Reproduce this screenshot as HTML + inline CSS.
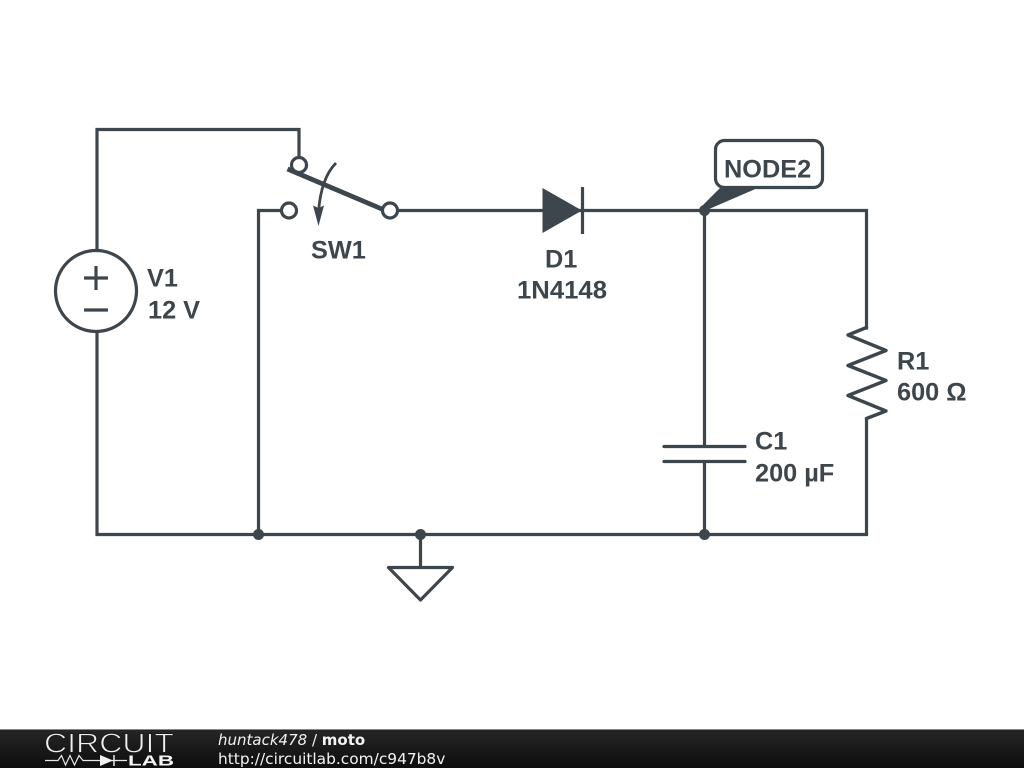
<!DOCTYPE html>
<html>
<head>
<meta charset="utf-8">
<style>
html,body{margin:0;padding:0;background:#fff;width:1024px;height:768px;overflow:hidden}
svg{display:block;position:absolute;left:0;top:0}
</style>
</head>
<body>
<svg width="1024" height="768" viewBox="0 0 1024 768" xmlns="http://www.w3.org/2000/svg">
<defs>
<linearGradient id="bar" x1="0" y1="0" x2="0" y2="1">
<stop offset="0" stop-color="#262626"/>
<stop offset="0.5" stop-color="#191919"/>
<stop offset="1" stop-color="#0e0e0e"/>
</linearGradient>
</defs>
<rect width="1024" height="768" fill="#fff"/>
<g fill="none" stroke="#3c464c" stroke-width="3.2" stroke-linecap="square">
<path d="M97 250V129.500H299V157"/>
<path d="M97 332V534.500H866.500V419"/>
<path d="M281 210.500H258.500V534.500"/>
<path d="M399 210.500H866.500V328"/>
<path d="M704.500 210.500V446"/>
<path d="M704.500 462V534.500"/>
<path d="M420.500 534.500V567"/>
<path d="M866.500 327.500L848 335L886 350.500L848 365.500L886 380.500L848 395.500L886 411L866.500 418.500" stroke-linejoin="round" stroke-linecap="round" stroke-width="3.4"/>
<path d="M664 446.500H745M664 461.500H745" stroke-linecap="round"/>
<path d="M388.500 567.500H452.500L420.500 600Z" stroke-linejoin="round"/>
<circle cx="96" cy="291" r="40.500"/>
<path d="M84 278H108M96 266V290M84 310H108" stroke-linecap="butt"/>
<circle cx="299" cy="165" r="7.500"/>
<circle cx="289" cy="210.500" r="7.500"/>
<circle cx="390" cy="210.500" r="7.500"/>
<path d="M287.500 169L383 209.500" stroke-width="4.800" stroke-linecap="butt"/>
<path d="M336 163Q321 178 318.500 212" stroke-width="2.800" stroke-linecap="butt"/>
<path d="M582.500 187V234" stroke-linecap="butt"/>
<rect x="715.500" y="140.500" width="107" height="47" rx="9" ry="9" stroke-width="3.200"/>
</g>
<path d="M318.500 226L313 205.500L318.500 208L324 205.500Z" fill="#3c464c"/>
<path d="M542.500 188V233L582 210.500Z" fill="#3c464c"/>
<path d="M721 187L760 187L704.500 211L700 208Z" fill="#3c464c"/>
<g fill="#3c464c">
<circle cx="704.500" cy="210.500" r="5.500"/>
<circle cx="704.500" cy="534.500" r="5.500"/>
<circle cx="258.500" cy="534.500" r="5.500"/>
<circle cx="420.500" cy="534.500" r="5.500"/>
</g>
<g font-family="'Liberation Sans',sans-serif" font-weight="700" font-size="25.300" fill="#3c464c">
<text x="147" y="286.700">V1</text>
<text x="148" y="318.700">12 V</text>
<text x="311" y="258.500">SW1</text>
<text x="545" y="267.700">D1</text>
<text x="517" y="298.700" textLength="90" lengthAdjust="spacingAndGlyphs">1N4148</text>
<text x="724" y="177.500">NODE2</text>
<text x="897" y="369.700">R1</text>
<text x="897" y="400.700">600 Ω</text>
<text x="755" y="449.700">C1</text>
<text x="755" y="481.700">200 µF</text>
</g>
<rect x="0" y="729" width="1024" height="39" fill="url(#bar)"/>
<rect x="0" y="729" width="1024" height="1" fill="#888"/>
<g fill="none" stroke="#e8e8e8">
<path d="M45 760.500H58L61.500 755.500L65.500 765L70 755.500L74.500 765L79 755.500L83 760.500H127" stroke-width="1.200"/>
<path d="M114 755V766" stroke-width="1.500"/>
</g>
<path d="M100 755V766L113 760.500Z" fill="#f0f0f0"/>
<text x="44" y="752.500" font-family="'Liberation Sans',sans-serif" font-size="28" fill="#f0f0f0" stroke="#1c1c1c" stroke-width="0.9" textLength="130" lengthAdjust="spacingAndGlyphs">CIRCUIT</text>
<text x="128" y="765.500" font-family="'Liberation Sans',sans-serif" font-size="14.500" font-weight="700" fill="#f4f4f4" textLength="46" lengthAdjust="spacingAndGlyphs">LAB</text>
<g font-family="'DejaVu Sans',sans-serif" font-size="15" fill="#f2f2f2">
<text x="218" y="745"><tspan font-style="italic">huntack478</tspan> / <tspan font-weight="700">moto</tspan></text>
<text x="218" y="764" font-size="15.400">http://circuitlab.com/c947b8v</text>
</g>
</svg>
</body>
</html>
